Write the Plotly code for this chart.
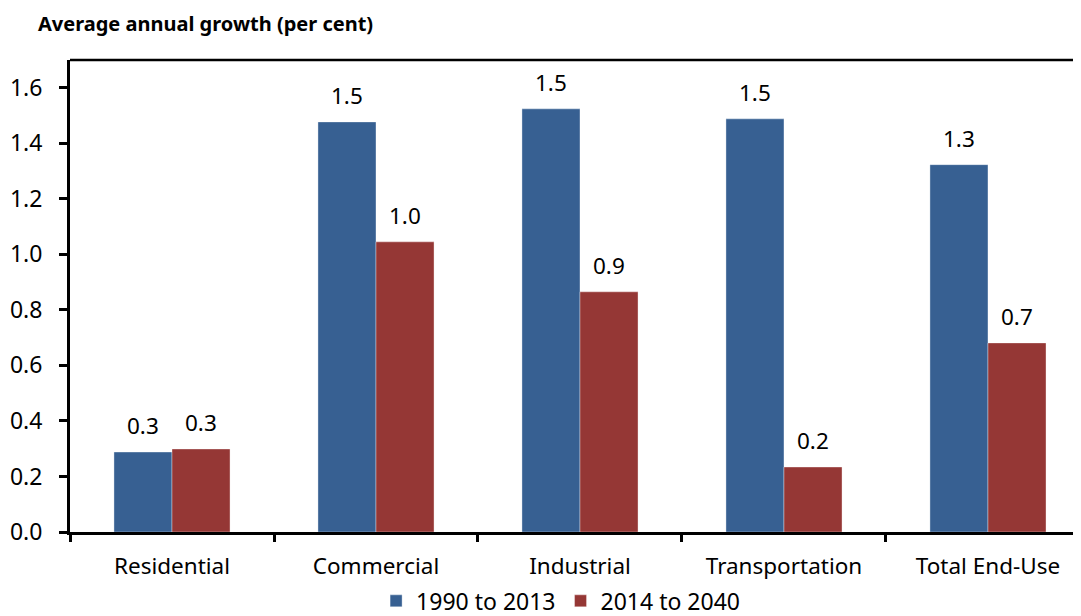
import plotly.graph_objects as go

categories = ["Residential", "Commercial", "Industrial", "Transportation", "Total End-Use"]
growth_1990_2013 = [0.288, 1.477, 1.524, 1.488, 1.323]
growth_2014_2040 = [0.299, 1.045, 0.865, 0.234, 0.681]
series_names = ["1990 to 2013", "2014 to 2040"]
y_ticks = [0.0, 0.2, 0.4, 0.6, 0.8, 1.0, 1.2, 1.4, 1.6]

BLUE = "#376092"
RED = "#953735"
FONT = "Noto Sans, Calibri, sans-serif"

fig = go.Figure()
for name, vals, col in zip(series_names, [growth_1990_2013, growth_2014_2040], [BLUE, RED]):
    fig.add_trace(go.Bar(x=categories, y=vals, name=name,
                         marker=dict(color=col, line=dict(width=0.6, color="rgba(255,255,255,0.6)"))))

# value labels above each bar
for shift, vals in [(-29, growth_1990_2013), (29, growth_2014_2040)]:
    for c, v in zip(categories, vals):
        fig.add_annotation(x=c, y=v, text=f"{v:.1f}", showarrow=False,
                           xshift=shift, yshift=9, yanchor="bottom",
                           font=dict(family=FONT, size=22.5, color="black"))

fig.add_annotation(text="<b>Average annual growth (per cent)</b>", xref="paper", yref="paper",
                   x=-0.034, y=1.0, yshift=21, xanchor="left", yanchor="bottom", showarrow=False,
                   font=dict(family=FONT, size=20, color="black"))

# top frame line (right side is cut off in the original)
fig.add_shape(type="line", xref="paper", yref="paper", x0=0, x1=1, y0=1, y1=1,
              line=dict(color="black", width=2.5))

# page body adds 8px margin, so figure is 8px smaller
fig.update_layout(
    width=1073, height=608,
    margin=dict(l=62, r=0, t=52, b=84, autoexpand=False),
    barmode="group", bargap=0.431, bargroupgap=0,
    plot_bgcolor="white", paper_bgcolor="white",
    font=dict(family=FONT, size=22, color="black"),
    showlegend=True,
    legend=dict(orientation="h", xref="container", x=0.515, xanchor="center",
                yref="paper", y=-0.146, yanchor="middle",
                font=dict(family=FONT, size=23), itemwidth=30, traceorder="normal"),
)
fig.update_xaxes(range=[-0.5, 4.456], showline=True, linecolor="black", linewidth=3,
                 ticks="outside", tickson="boundaries", ticklen=7, tickwidth=3, tickcolor="black",
                 showgrid=False, automargin=False, ticklabelstandoff=12,
                 tickfont=dict(family=FONT, size=22.5))
fig.update_yaxes(range=[0, 1.7], tickvals=y_ticks, ticktext=[f"{t:.1f}" for t in y_ticks],
                 showline=True, linecolor="black", linewidth=3, ticks="outside",
                 ticklen=8, tickwidth=3, tickcolor="black", showgrid=False, zeroline=False,
                 automargin=False, ticklabelstandoff=12, tickfont=dict(family=FONT, size=23))

fig.write_html("out.html")
